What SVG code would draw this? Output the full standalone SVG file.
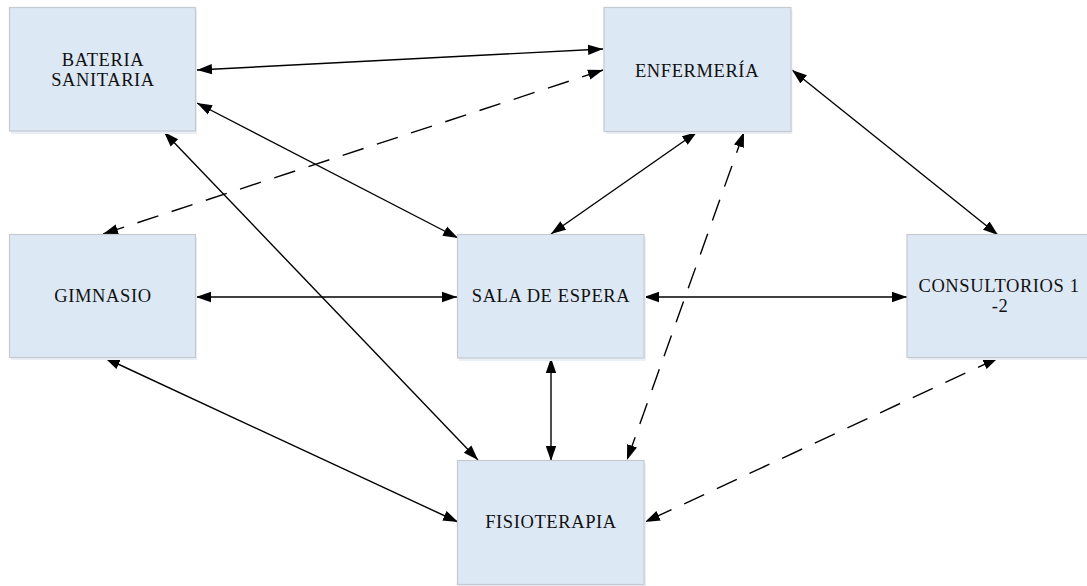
<svg xmlns="http://www.w3.org/2000/svg" width="1087" height="586" viewBox="0 0 1087 586">
<style>
.box{fill:#dde8f5;stroke:#c5cad0;stroke-width:1.2}
.sh{fill:#e9eff7}
.lbl{font-family:'Liberation Serif','Times New Roman',serif;font-size:18.5px;letter-spacing:0.6px;fill:#111;text-anchor:middle}
.c{fill:none;stroke:#000;stroke-width:1.4;marker-start:url(#ah);marker-end:url(#ah)}
.d{stroke-dasharray:22 14}
</style>
<defs>
<marker id="ah" markerUnits="userSpaceOnUse" markerWidth="16" markerHeight="12" refX="15" refY="6" orient="auto-start-reverse">
<path d="M0,0.8 L15,6 L0,11.2 z" fill="#000"/>
</marker>
</defs>
<rect width="1087" height="586" fill="#fff"/>
<g id="connectors">
<line class="c" x1="197" y1="70" x2="603" y2="49"/>
<line class="c d" x1="603" y1="70" x2="103" y2="234"/>
<line class="c" x1="197" y1="103" x2="458" y2="238"/>
<line class="c" x1="164" y1="132" x2="478" y2="460"/>
<line class="c" x1="697" y1="132" x2="551" y2="234"/>
<line class="c d" x1="744" y1="132" x2="627" y2="460"/>
<line class="c" x1="792" y1="70" x2="998" y2="235"/>
<line class="c" x1="196" y1="297" x2="457" y2="297"/>
<line class="c" x1="644" y1="297" x2="907" y2="297"/>
<line class="c" x1="105" y1="358" x2="458" y2="522"/>
<line class="c" x1="551" y1="358" x2="551" y2="461"/>
<line class="c d" x1="998" y1="358" x2="645" y2="522"/>
</g>
<g id="bateria">
<rect class="sh" x="11" y="10" width="186" height="124"/>
<rect class="box" x="9.5" y="7.5" width="186" height="123.5"/>
<text class="lbl" x="103" y="66">BATERIA</text>
<text class="lbl" x="103" y="86">SANITARIA</text>
</g>
<g id="enfermeria">
<rect class="sh" x="605.5" y="10" width="187" height="124"/>
<rect class="box" x="604" y="7.5" width="187" height="124"/>
<text class="lbl" x="697" y="77">ENFERMERÍA</text>
</g>
<g id="gimnasio">
<rect class="sh" x="11" y="237" width="186" height="123"/>
<rect class="box" x="9.5" y="234.5" width="186" height="123"/>
<text class="lbl" x="103" y="302">GIMNASIO</text>
</g>
<g id="sala">
<rect class="sh" x="459" y="237" width="187" height="124"/>
<rect class="box" x="457.5" y="234.5" width="186.5" height="123.5"/>
<text class="lbl" x="551" y="302">SALA DE ESPERA</text>
</g>
<g id="consultorios">
<rect class="sh" x="908.5" y="237" width="187" height="123"/>
<rect class="box" x="907" y="234.5" width="187" height="123"/>
<text class="lbl" x="999" y="292">CONSULTORIOS 1</text>
<text class="lbl" x="1000" y="312">-2</text>
</g>
<g id="fisioterapia">
<rect class="sh" x="459" y="463" width="187" height="124"/>
<rect class="box" x="457.5" y="460.5" width="186.5" height="124"/>
<text class="lbl" x="551" y="528">FISIOTERAPIA</text>
</g>
</svg>
